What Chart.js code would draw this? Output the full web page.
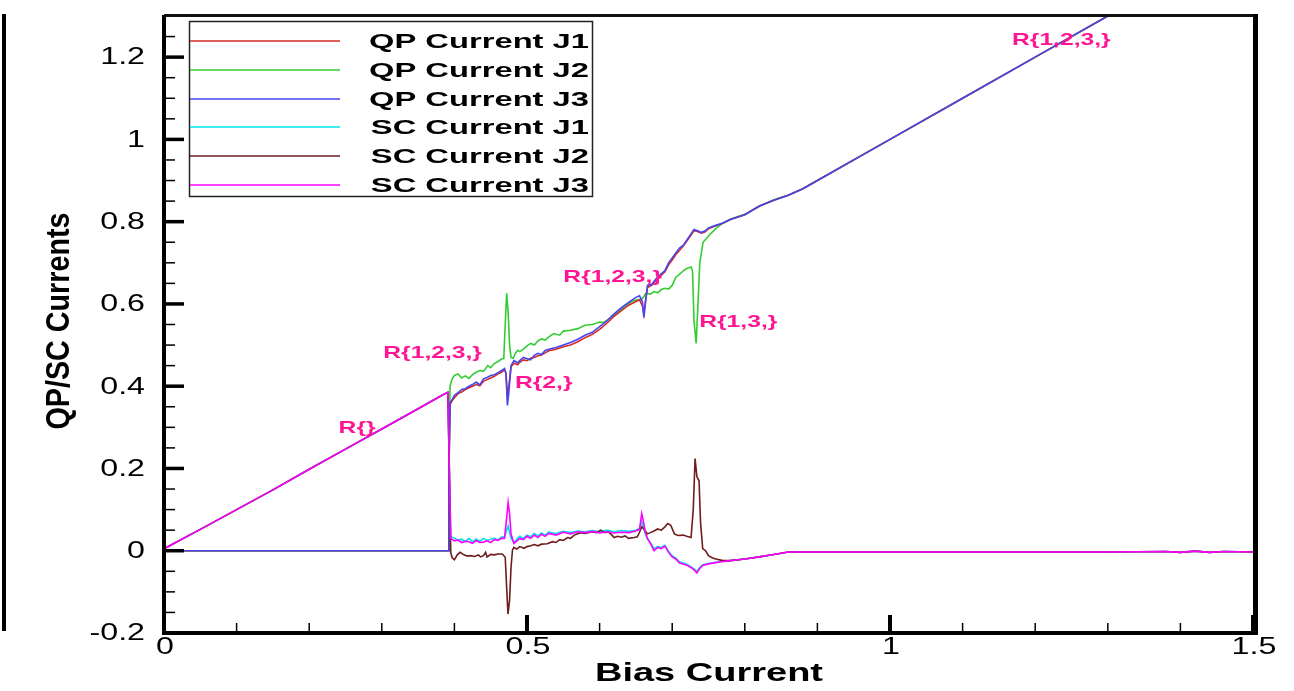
<!DOCTYPE html>
<html>
<head>
<meta charset="utf-8">
<title>QP/SC Currents</title>
<script src="https://cdn.jsdelivr.net/npm/chart.js@4"></script>
<style>
  body { margin: 0; background: #fff; overflow: hidden; }
</style>
</head>
<body>
<canvas id="chart" width="1294" height="691"></canvas>
<script>
'use strict';

// values, [bias current, current]
let seriesNames = ['QP Current J1', 'QP Current J2', 'QP Current J3', 'SC Current J1', 'SC Current J2', 'SC Current J3'];

let qpJ1 = [[0,0],[0.392,0],[0.3925,0.2],[0.394,0.355],[0.397,0.365],[0.40,0.372],[0.405,0.382],[0.41,0.386],[0.415,0.392],[0.42,0.396],[0.425,0.40],[0.43,0.404],[0.435,0.401],[0.44,0.412],[0.445,0.416],[0.45,0.42],[0.455,0.424],[0.46,0.43],[0.465,0.434],[0.469,0.44],[0.471,0.432],[0.473,0.38],[0.475,0.40],[0.478,0.447],[0.482,0.456],[0.487,0.452],[0.49,0.458],[0.495,0.464],[0.50,0.462],[0.505,0.468],[0.51,0.47],[0.515,0.474],[0.52,0.476],[0.525,0.481],[0.53,0.486],[0.54,0.49],[0.55,0.496],[0.56,0.50],[0.57,0.508],[0.58,0.518],[0.59,0.526],[0.60,0.538],[0.61,0.553],[0.62,0.57],[0.63,0.584],[0.64,0.597],[0.65,0.606],[0.655,0.61],[0.659,0.595],[0.661,0.575],[0.663,0.605],[0.666,0.64],[0.672,0.646],[0.678,0.658],[0.684,0.668],[0.69,0.678],[0.695,0.695],[0.70,0.707],[0.705,0.72],[0.71,0.73],[0.715,0.74],[0.72,0.752],[0.725,0.765],[0.73,0.778],[0.735,0.776],[0.74,0.772],[0.745,0.775],[0.75,0.783],[0.76,0.79],[0.77,0.796],[0.78,0.805],[0.80,0.817],[0.82,0.838],[0.84,0.852],[0.86,0.864],[0.88,0.88],[0.9,0.9],[1.0,1.0],[1.1,1.1],[1.2,1.2],[1.3,1.3],[1.4,1.4],[1.5,1.5]];

let qpJ2 = [[0,0],[0.392,0],[0.3925,0.2],[0.394,0.40],[0.397,0.418],[0.40,0.426],[0.405,0.43],[0.41,0.42],[0.415,0.425],[0.42,0.419],[0.425,0.428],[0.43,0.434],[0.435,0.438],[0.44,0.436],[0.446,0.45],[0.45,0.445],[0.455,0.455],[0.46,0.46],[0.465,0.466],[0.468,0.467],[0.470,0.55],[0.472,0.626],[0.474,0.58],[0.476,0.50],[0.478,0.47],[0.481,0.468],[0.484,0.48],[0.487,0.487],[0.49,0.484],[0.495,0.49],[0.50,0.498],[0.505,0.504],[0.51,0.50],[0.515,0.51],[0.52,0.515],[0.525,0.512],[0.53,0.52],[0.537,0.528],[0.545,0.524],[0.55,0.534],[0.56,0.536],[0.57,0.54],[0.58,0.548],[0.59,0.55],[0.60,0.556],[0.606,0.555],[0.615,0.566],[0.625,0.58],[0.635,0.595],[0.645,0.607],[0.652,0.61],[0.657,0.611],[0.66,0.616],[0.664,0.626],[0.67,0.624],[0.675,0.63],[0.68,0.627],[0.685,0.635],[0.69,0.638],[0.695,0.636],[0.70,0.645],[0.705,0.665],[0.71,0.672],[0.715,0.68],[0.72,0.686],[0.726,0.69],[0.728,0.68],[0.730,0.56],[0.733,0.504],[0.7355,0.60],[0.738,0.70],[0.7425,0.75],[0.75,0.765],[0.76,0.783],[0.77,0.797],[0.78,0.806],[0.80,0.818],[0.82,0.837],[0.84,0.853],[0.86,0.865],[0.88,0.88],[0.9,0.9],[1.0,1.0],[1.1,1.1],[1.2,1.2],[1.3,1.3],[1.4,1.4],[1.5,1.5]];

let qpJ3 = [[0,0],[0.392,0],[0.3925,0.2],[0.394,0.36],[0.397,0.368],[0.40,0.378],[0.405,0.384],[0.41,0.392],[0.415,0.394],[0.42,0.40],[0.425,0.404],[0.43,0.41],[0.435,0.403],[0.44,0.418],[0.445,0.421],[0.45,0.426],[0.455,0.428],[0.46,0.433],[0.465,0.438],[0.469,0.443],[0.471,0.43],[0.473,0.353],[0.475,0.385],[0.478,0.45],[0.482,0.462],[0.487,0.457],[0.49,0.462],[0.495,0.47],[0.50,0.467],[0.505,0.464],[0.51,0.475],[0.515,0.48],[0.52,0.477],[0.525,0.487],[0.53,0.49],[0.54,0.494],[0.55,0.50],[0.56,0.506],[0.57,0.514],[0.58,0.524],[0.59,0.531],[0.60,0.545],[0.61,0.559],[0.62,0.576],[0.63,0.591],[0.64,0.604],[0.65,0.616],[0.655,0.62],[0.659,0.605],[0.661,0.567],[0.663,0.6],[0.666,0.645],[0.672,0.648],[0.678,0.662],[0.684,0.672],[0.69,0.681],[0.695,0.70],[0.70,0.712],[0.705,0.724],[0.71,0.736],[0.715,0.742],[0.72,0.755],[0.725,0.768],[0.73,0.781],[0.735,0.778],[0.74,0.774],[0.745,0.777],[0.75,0.785],[0.76,0.791],[0.77,0.797],[0.78,0.805],[0.80,0.817],[0.82,0.838],[0.84,0.852],[0.86,0.864],[0.88,0.88],[0.9,0.9],[1.0,1.0],[1.1,1.1],[1.2,1.2],[1.3,1.3],[1.4,1.4],[1.5,1.5]];

let scRise = [[0,0.005],[0.05,0.052],[0.1,0.1],[0.15,0.148],[0.2,0.198],[0.25,0.247],[0.3,0.296],[0.35,0.345],[0.383,0.378],[0.391,0.385],[0.393,0.2]];

let scTail = [[0.78,-0.024],[0.80,-0.02],[0.82,-0.015],[0.84,-0.009],[0.86,-0.003],[0.9,-0.003],[1.0,-0.003],[1.1,-0.003],[1.2,-0.003],[1.3,-0.003],[1.38,-0.002],[1.40,-0.004],[1.42,-0.001],[1.44,-0.004],[1.46,-0.002],[1.5,-0.003]];

let scJ1 = scRise.concat([[0.395,0.035],[0.40,0.03],[0.405,0.026],[0.41,0.028],[0.415,0.022],[0.42,0.03],[0.425,0.022],[0.43,0.028],[0.435,0.023],[0.44,0.03],[0.445,0.025],[0.45,0.028],[0.455,0.03],[0.46,0.026],[0.465,0.034],[0.469,0.033],[0.472,0.05],[0.474,0.06],[0.476,0.045],[0.478,0.03],[0.482,0.02],[0.487,0.03],[0.49,0.035],[0.495,0.03],[0.50,0.038],[0.505,0.034],[0.51,0.042],[0.515,0.036],[0.52,0.043],[0.525,0.038],[0.53,0.045],[0.54,0.042],[0.55,0.047],[0.56,0.044],[0.57,0.048],[0.58,0.046],[0.59,0.049],[0.60,0.046],[0.61,0.05],[0.62,0.046],[0.63,0.049],[0.64,0.047],[0.65,0.05],[0.655,0.055],[0.658,0.07],[0.66,0.06],[0.663,0.04],[0.666,0.028],[0.67,0.02],[0.675,0.005],[0.68,0.01],[0.685,0.008],[0.69,0.013],[0.695,-0.002],[0.70,-0.012],[0.705,-0.018],[0.71,-0.027],[0.715,-0.03],[0.72,-0.033],[0.725,-0.038],[0.73,-0.044],[0.734,-0.05],[0.738,-0.041],[0.742,-0.034],[0.75,-0.031],[0.76,-0.028],[0.77,-0.025]], scTail);

let scJ2 = scRise.concat([[0.395,-0.005],[0.397,-0.017],[0.40,-0.022],[0.404,-0.01],[0.408,-0.004],[0.413,-0.01],[0.418,-0.013],[0.422,-0.012],[0.428,-0.014],[0.433,-0.01],[0.436,-0.015],[0.44,-0.012],[0.443,-0.004],[0.445,-0.015],[0.45,-0.009],[0.455,-0.01],[0.46,-0.008],[0.466,-0.008],[0.47,-0.016],[0.472,-0.09],[0.4738,-0.154],[0.476,-0.12],[0.478,-0.04],[0.48,0.002],[0.482,0.008],[0.486,0.004],[0.49,0.01],[0.496,0.006],[0.50,0.01],[0.505,0.012],[0.51,0.015],[0.515,0.012],[0.52,0.016],[0.528,0.017],[0.535,0.022],[0.54,0.02],[0.545,0.027],[0.55,0.025],[0.556,0.032],[0.56,0.03],[0.565,0.038],[0.574,0.044],[0.58,0.042],[0.59,0.046],[0.5955,0.044],[0.6016,0.05],[0.607,0.044],[0.612,0.046],[0.617,0.038],[0.62,0.032],[0.625,0.035],[0.63,0.033],[0.635,0.036],[0.64,0.03],[0.6476,0.032],[0.652,0.034],[0.655,0.045],[0.658,0.058],[0.661,0.053],[0.666,0.041],[0.67,0.044],[0.675,0.048],[0.68,0.053],[0.685,0.05],[0.69,0.058],[0.694,0.066],[0.698,0.062],[0.703,0.041],[0.708,0.037],[0.715,0.038],[0.72,0.035],[0.726,0.032],[0.729,0.1],[0.7315,0.224],[0.734,0.18],[0.737,0.17],[0.739,0.07],[0.742,0.005],[0.746,0.0],[0.75,-0.012],[0.755,-0.017],[0.76,-0.02],[0.77,-0.024]], scTail);

let scJ3 = scRise.concat([[0.395,0.03],[0.40,0.024],[0.405,0.026],[0.41,0.02],[0.415,0.023],[0.42,0.022],[0.425,0.018],[0.43,0.025],[0.435,0.02],[0.44,0.021],[0.445,0.024],[0.45,0.02],[0.455,0.027],[0.46,0.025],[0.465,0.03],[0.469,0.03],[0.472,0.08],[0.474,0.117],[0.476,0.09],[0.478,0.04],[0.482,0.018],[0.487,0.025],[0.49,0.03],[0.495,0.027],[0.50,0.035],[0.505,0.03],[0.51,0.038],[0.515,0.032],[0.52,0.04],[0.525,0.035],[0.53,0.042],[0.54,0.038],[0.55,0.045],[0.56,0.041],[0.57,0.046],[0.58,0.044],[0.59,0.047],[0.60,0.043],[0.61,0.046],[0.62,0.043],[0.63,0.045],[0.64,0.044],[0.65,0.048],[0.655,0.052],[0.658,0.09],[0.66,0.075],[0.663,0.045],[0.666,0.03],[0.67,0.018],[0.675,0.0],[0.68,0.008],[0.685,0.005],[0.69,0.011],[0.695,-0.004],[0.70,-0.015],[0.705,-0.02],[0.71,-0.03],[0.715,-0.032],[0.72,-0.035],[0.725,-0.04],[0.73,-0.046],[0.734,-0.054],[0.738,-0.043],[0.742,-0.036],[0.75,-0.032],[0.76,-0.029],[0.77,-0.026]], scTail);

let allSeries = [qpJ1, qpJ2, qpJ3, scJ1, scJ2, scJ3];
let seriesColors = ['#d42a2a', '#33cc33', '#4646ee', '#00e0ea', '#6e1c1c', '#ff00ff'];
let drawOrder = [4, 5, 3, 2, 1, 0]; // lower = drawn on top

let xTicks = [0, 0.5, 1, 1.5];
let xTickLabels = ['0', '0.5', '1', '1.5'];
let yTicks = [-0.2, 0, 0.2, 0.4, 0.6, 0.8, 1, 1.2];
let yTickLabels = ['-0.2', '0', '0.2', '0.4', '0.6', '0.8', '1', '1.2'];

// region labels: text, bias current, current
let regionText = ['R{}', 'R{1,2,3,}', 'R{2,}', 'R{1,2,3,}', 'R{1,3,}', 'R{1,2,3,}'];
let regionX = [0.266, 0.370, 0.523, 0.618, 0.791, 1.236];
let regionY = [0.297, 0.480, 0.407, 0.665, 0.555, 1.241];

function stretchText(ctx, text, x, y, sx, align) {
  ctx.save();
  ctx.translate(x, y);
  ctx.scale(sx, 1);
  ctx.textAlign = align;
  ctx.textBaseline = 'middle';
  ctx.fillText(text, 0, 0);
  ctx.restore();
}

let framePlugin = {
  id: 'frame',
  afterDraw(chart) {
    let ctx = chart.ctx;
    let ca = chart.chartArea;
    let xs = chart.scales.x;
    let ys = chart.scales.y;
    ctx.save();

    // bracket at far left
    ctx.fillStyle = '#000';
    ctx.fillRect(2, 14, 4, 617);

    // frame
    ctx.fillStyle = '#111';
    ctx.fillRect(ca.left, ca.top - 2, ca.right - ca.left + 5, 3);
    ctx.fillStyle = '#000';
    ctx.fillRect(ca.left - 2, ca.top - 1, 4, ca.bottom - ca.top + 3);
    ctx.fillRect(ca.left - 2, ca.bottom - 2, ca.right - ca.left + 7, 4);
    ctx.fillRect(ca.right, ca.top - 2, 5, ca.bottom - ca.top + 4);

    // inward ticks
    for (let v = -0.15; v < 1.3; v += 0.05) {
      let py = ys.getPixelForValue(v);
      ctx.fillRect(ca.left, py - 0.75, 11, 1.5);
    }
    for (let i = 0; i < yTicks.length; i++) {
      let py = ys.getPixelForValue(yTicks[i]);
      ctx.fillRect(ca.left, py - 1.75, 20, 3.5);
    }
    for (let v = 0.1; v < 1.5; v += 0.1) {
      let px = xs.getPixelForValue(v);
      ctx.fillRect(px - 0.75, ca.bottom - 10, 1.5, 10);
    }
    for (let i = 0; i < xTicks.length; i++) {
      let px = xs.getPixelForValue(xTicks[i]);
      ctx.fillRect(px - 2, ca.bottom - 18, 4, 18);
    }

    // tick labels
    ctx.fillStyle = '#000';
    ctx.font = '23px "Liberation Sans", Arial, sans-serif';
    for (let i = 0; i < yTicks.length; i++) {
      stretchText(ctx, yTickLabels[i], 145, ys.getPixelForValue(yTicks[i]) + 1, 1.4, 'right');
    }
    for (let i = 0; i < xTicks.length; i++) {
      stretchText(ctx, xTickLabels[i], xs.getPixelForValue(xTicks[i]) + 1, 648, 1.4, 'center');
    }

    // axis titles
    ctx.font = 'bold 25px "Liberation Sans", Arial, sans-serif';
    let xw = ctx.measureText('Bias Current').width;
    stretchText(ctx, 'Bias Current', 709, 674, 228 / xw, 'center');

    ctx.font = 'bold 24px "Liberation Sans", Arial, sans-serif';
    let yw = ctx.measureText('QP/SC Currents').width;
    ctx.save();
    ctx.translate(60, 321);
    ctx.rotate(-Math.PI / 2);
    ctx.scale(217 / yw, 1.4);
    ctx.textAlign = 'center';
    ctx.textBaseline = 'middle';
    ctx.fillText('QP/SC Currents', 0, 0);
    ctx.restore();

    // region labels
    ctx.fillStyle = '#ff1493';
    ctx.font = 'bold 17px "Liberation Sans", Arial, sans-serif';
    for (let i = 0; i < regionText.length; i++) {
      stretchText(ctx, regionText[i], xs.getPixelForValue(regionX[i]), ys.getPixelForValue(regionY[i]), 1.45, 'center');
    }

    // legend
    let bx = 189, by = 21, bw = 403, bh = 175;
    ctx.fillStyle = '#fff';
    ctx.fillRect(bx, by, bw, bh);
    ctx.strokeStyle = '#222';
    ctx.lineWidth = 1.5;
    ctx.strokeRect(bx + 0.5, by + 0.5, bw, bh);
    ctx.font = 'bold 21px "Liberation Sans", Arial, sans-serif';
    let lw = ctx.measureText('QP Current J1').width;
    let rowY = [41, 70, 99, 127, 156, 185];
    for (let i = 0; i < seriesNames.length; i++) {
      ctx.strokeStyle = seriesColors[i];
      ctx.beginPath();
      ctx.moveTo(bx + 1, rowY[i]);
      ctx.lineTo(340, rowY[i]);
      ctx.stroke();
      ctx.fillStyle = '#000';
      stretchText(ctx, seriesNames[i], 589, rowY[i] + 1, 220 / lw, 'right');
    }
    ctx.restore();
  }
};

let datasets = [];
for (let i = 0; i < allSeries.length; i++) {
  datasets.push({
    label: seriesNames[i],
    data: allSeries[i].map(p => ({ x: p[0], y: p[1] })),
    borderColor: seriesColors[i],
    backgroundColor: seriesColors[i],
    borderWidth: 1.6,
    pointRadius: 0,
    showLine: true,
    tension: 0,
    order: drawOrder[i]
  });
}

let newChart = new Chart(document.getElementById('chart'), {
  type: 'scatter',
  data: { datasets: datasets },
  options: {
    responsive: false,
    animation: false,
    devicePixelRatio: 1,
    layout: { padding: { top: 16, right: 41, left: 0, bottom: 0 } },
    plugins: {
      legend: { display: false },
      tooltip: { enabled: false }
    },
    scales: {
      x: {
        type: 'linear',
        min: 0,
        max: 1.5,
        grid: { display: false },
        border: { display: false },
        ticks: { display: false },
        afterFit: s => { s.height = 58; }
      },
      y: {
        type: 'linear',
        min: -0.2,
        max: 1.3,
        grid: { display: false },
        border: { display: false },
        ticks: { display: false },
        afterFit: s => { s.width = 164; }
      }
    }
  },
  plugins: [framePlugin]
});
</script>
</body>
</html>
